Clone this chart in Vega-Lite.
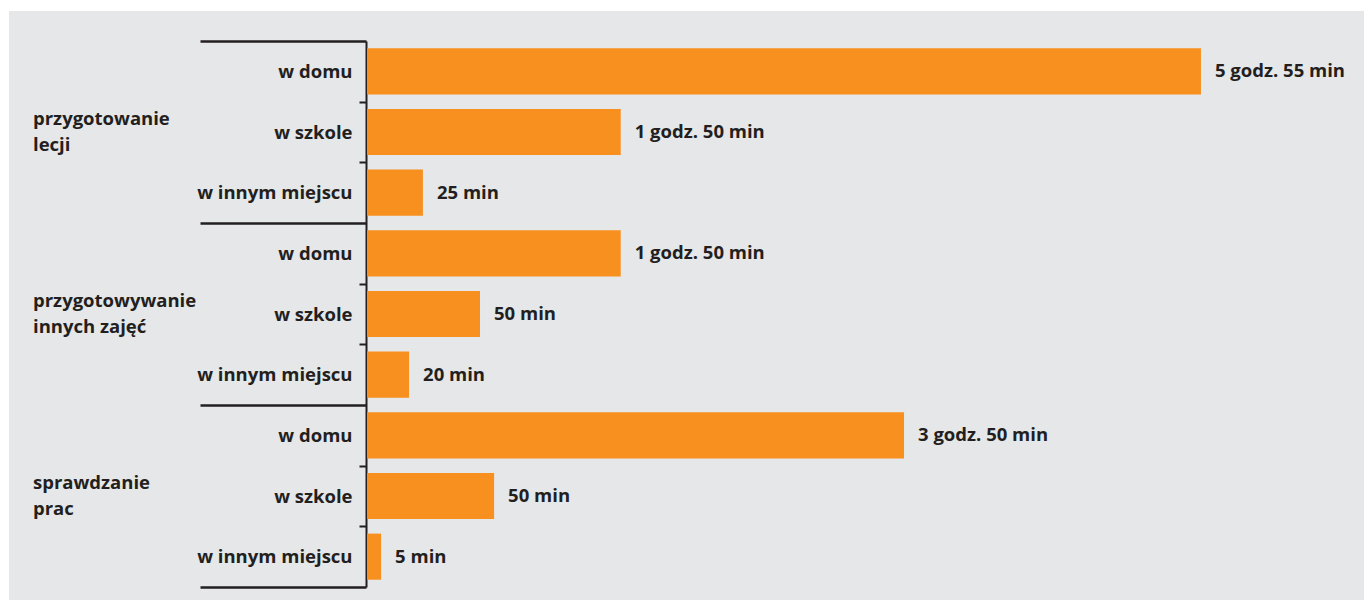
{
  "$schema": "https://vega.github.io/schema/vega-lite/v6.json",
  "width": 1355,
  "height": 589,
  "autosize": {"type": "none"},
  "padding": {"left": 9, "top": 11, "right": 0, "bottom": 0},
  "background": "#ffffff",
  "config": {
    "view": {"fill": "#e6e7e8", "stroke": null},
    "font": "Open Sans"
  },
  "data": {
    "values": [
      {"group": "przygotowanie lecji", "place": "w domu", "item": "przygotowanie lecji: w domu", "minutes": 355, "label": "5 godz. 55 min"},
      {"group": "przygotowanie lecji", "place": "w szkole", "item": "przygotowanie lecji: w szkole", "minutes": 108, "label": "1 godz. 50 min"},
      {"group": "przygotowanie lecji", "place": "w innym miejscu", "item": "przygotowanie lecji: w innym miejscu", "minutes": 23.8, "label": "25 min"},
      {"group": "przygotowywanie innych zajęć", "place": "w domu", "item": "przygotowywanie innych zajęć: w domu", "minutes": 108, "label": "1 godz. 50 min"},
      {"group": "przygotowywanie innych zajęć", "place": "w szkole", "item": "przygotowywanie innych zajęć: w szkole", "minutes": 48.1, "label": "50 min"},
      {"group": "przygotowywanie innych zajęć", "place": "w innym miejscu", "item": "przygotowywanie innych zajęć: w innym miejscu", "minutes": 17.9, "label": "20 min"},
      {"group": "sprawdzanie prac", "place": "w domu", "item": "sprawdzanie prac: w domu", "minutes": 228.6, "label": "3 godz. 50 min"},
      {"group": "sprawdzanie prac", "place": "w szkole", "item": "sprawdzanie prac: w szkole", "minutes": 54.1, "label": "50 min"},
      {"group": "sprawdzanie prac", "place": "w innym miejscu", "item": "sprawdzanie prac: w innym miejscu", "minutes": 6, "label": "5 min"}
    ]
  },
  "encoding": {
    "y": {
      "field": "item",
      "type": "nominal",
      "sort": null,
      "scale": {"type": "band", "range": [30, 576], "paddingInner": 0, "paddingOuter": 0},
      "axis": {
        "title": null,
        "orient": "left",
        "offset": -357,
        "domain": true,
        "domainColor": "#231f20",
        "domainWidth": 2,
        "grid": false,
        "tickBand": "extent",
        "tickSize": {"condition": {"test": "datum.value == null || indexof(datum.value, 'w innym miejscu') >= 0", "value": 166}, "value": 7},
        "tickWidth": {"condition": {"test": "datum.value == null || indexof(datum.value, 'w innym miejscu') >= 0", "value": 2.5}, "value": 2},
        "tickColor": "#231f20",
        "labelPadding": {"condition": {"test": "datum.value == null || indexof(datum.value, 'w innym miejscu') >= 0", "value": -152}, "value": 7},
        "labelFont": "Open Sans",
        "labelFontSize": 18.5,
        "labelFontWeight": "bold",
        "labelColor": "#231f20",
        "labelLimit": 400,
        "labelExpr": "datum.value ? split(datum.value, ': ')[1] : ''"
      }
    },
    "x": {
      "field": "minutes",
      "type": "quantitative",
      "scale": {"domain": [-152.4, 424.4], "nice": false, "zero": false},
      "axis": null
    }
  },
  "layer": [
    {"mark": {"type": "bar", "color": "#f7901e", "height": {"band": 0.76}}},
    {
      "mark": {"type": "text", "align": "left", "baseline": "middle", "dx": 14, "font": "Open Sans", "fontSize": 18.5, "fontWeight": "bold", "color": "#231f20"},
      "encoding": {"text": {"field": "label"}}
    },
    {
      "transform": [{"filter": "datum.place == 'w szkole'"}],
      "mark": {"type": "text", "align": "left", "baseline": "middle", "dx": -334, "dy": -13, "lineHeight": 26, "font": "Open Sans", "fontSize": 18.5, "fontWeight": "bold", "color": "#231f20"},
      "encoding": {
        "x": {"datum": 0},
        "text": {"value": {"expr": "[slice(datum.group, 0, indexof(datum.group, ' ')), slice(datum.group, indexof(datum.group, ' ') + 1)]"}}
      }
    }
  ]
}
